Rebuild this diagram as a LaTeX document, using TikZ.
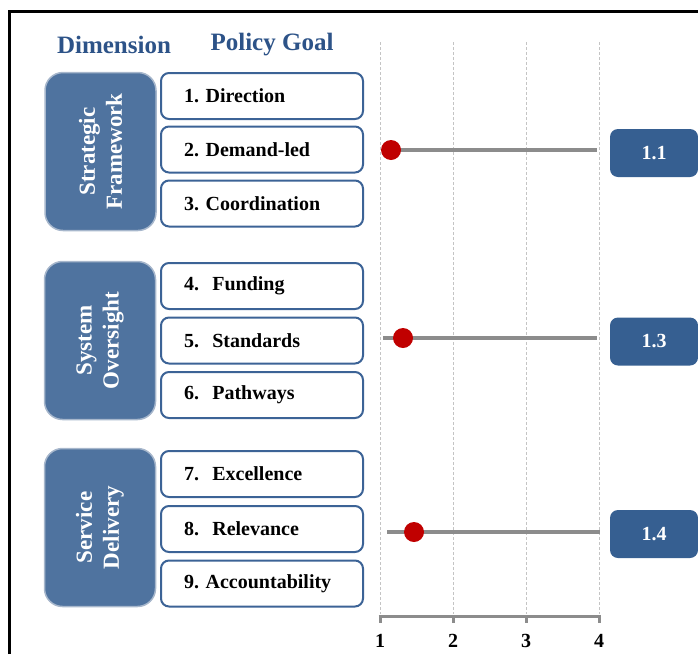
\documentclass[tikz,border=0pt]{standalone}
\usepackage{fontspec}
\setmainfont{Liberation Serif}
\frenchspacing
\definecolor{dimblue}{HTML}{4F739F}
\definecolor{dimedge}{HTML}{A7B7CC}
\definecolor{edgeblue}{HTML}{3C6396}
\definecolor{scoreblue}{HTML}{365F91}
\definecolor{headblue}{HTML}{2D5388}
\definecolor{dotred}{HTML}{C00000}
\definecolor{bargray}{HTML}{8C8C8C}
\definecolor{gridgray}{HTML}{C4C4C4}
\tikzset{
  treenode/.style = {align=center, inner sep=0pt, font=\bfseries},
  % dimension: tall blue box, text turned upwards
  dim_box/.style = {treenode, rotate=90, rounded corners=18pt, fill=dimblue, draw=dimedge, line width=1.5pt,
    minimum width=158pt, minimum height=111pt, text=white, font=\fontsize{23}{27}\selectfont\bfseries},
  % policy goal: white box, blue edge
  goal_box/.style = {treenode, rounded corners=8pt, draw=edgeblue, fill=white, line width=2pt,
    minimum height=46pt, text width=156pt, inner xsep=23pt, align=left, font=\fontsize{20}{22}\selectfont\bfseries},
  score_box/.style = {treenode, rounded corners=8pt, fill=scoreblue, text=white,
    minimum width=88pt, minimum height=48pt, font=\fontsize{20}{22}\selectfont\bfseries},
  head_lbl/.style = {treenode, text=headblue, font=\fontsize{25}{28}\selectfont\bfseries},
  score_dot/.style = {circle, fill=dotred, minimum size=20pt, inner sep=0pt},
  tick_lbl/.style = {treenode, font=\fontsize{20}{22}\selectfont\bfseries}
%   grid_line/.style = {draw=gridgray}
}

\begin{document}
\begin{tikzpicture}[x=1pt, y=-1pt]
  \useasboundingbox (0,0) rectangle (698,654);
  % frame
  \draw[line width=3pt] (9,654) -- (9,11) -- (698,11);
  % headings
  \node [head_lbl] (hdim) at (114,45) {Dimension};
  \node [head_lbl] (hgoal) at (272,45) {Policy Goal};
  % grid and axis
  \foreach \v [count=\i] in {380,453,526,599}{
    \draw [gridgray, line width=0.8pt, dash pattern=on 3pt off 2pt] (\v,42) -- (\v,614);
    \draw [bargray, line width=3pt] (\v,616) -- (\v,623);
    \node [tick_lbl] (tick\i) at (\v,641) {\i};
  }
  \draw [bargray, line width=3pt] (378.5,616) -- (600.5,616);
  % Dimension 1 - Strategic Framework:
  \node [dim_box] (dim1) at (100.5,151.5) {Strategic\\Framework};
  \node [goal_box] (goal1) at (262,96) {1. Direction};
  \node [goal_box] (goal2) at (262,149.5) {2. Demand-led};
  \node [goal_box] (goal3) at (262,203.5) {3. Coordination};
  % Dimension 2 - System Oversight:
  \node [dim_box] (dim2) at (100,340.5) {System\\Oversight};
  \node [goal_box] (goal4) at (262,286) {4.\ \ Funding};
  \node [goal_box] (goal5) at (262,340.5) {5.\ \ Standards};
  \node [goal_box] (goal6) at (262,395) {6.\ \ Pathways};
  % Dimension 3 - Service Delivery:
  \node [dim_box] (dim3) at (100,527.5) {Service\\Delivery};
  \node [goal_box] (goal7) at (262,474) {7.\ \ Excellence};
  \node [goal_box] (goal8) at (262,529) {8.\ \ Relevance};
  \node [goal_box] (goal9) at (262,583.5) {9. Accountability};
  % score ranges
  \coordinate (s1a) at (390,150);  \coordinate (s1b) at (597,150);
  \coordinate (s2a) at (383,338);  \coordinate (s2b) at (597,338);
  \coordinate (s3a) at (387,532);  \coordinate (s3b) at (600,532);
  \draw [bargray, line width=3.5pt] (s1a) -- (s1b);
  \draw [bargray, line width=3.5pt] (s2a) -- (s2b);
  \draw [bargray, line width=3.5pt] (s3a) -- (s3b);
  \node [score_dot] (dot1) at (391,150) {};
  \node [score_dot] (dot2) at (403,338) {};
  \node [score_dot] (dot3) at (414,532) {};
  % scores
  \node [score_box] (score1) at (654,153) {1.1};
  \node [score_box] (score2) at (654,341.5) {1.3};
  \node [score_box] (score3) at (654,534) {1.4};
\end{tikzpicture}
\end{document}
